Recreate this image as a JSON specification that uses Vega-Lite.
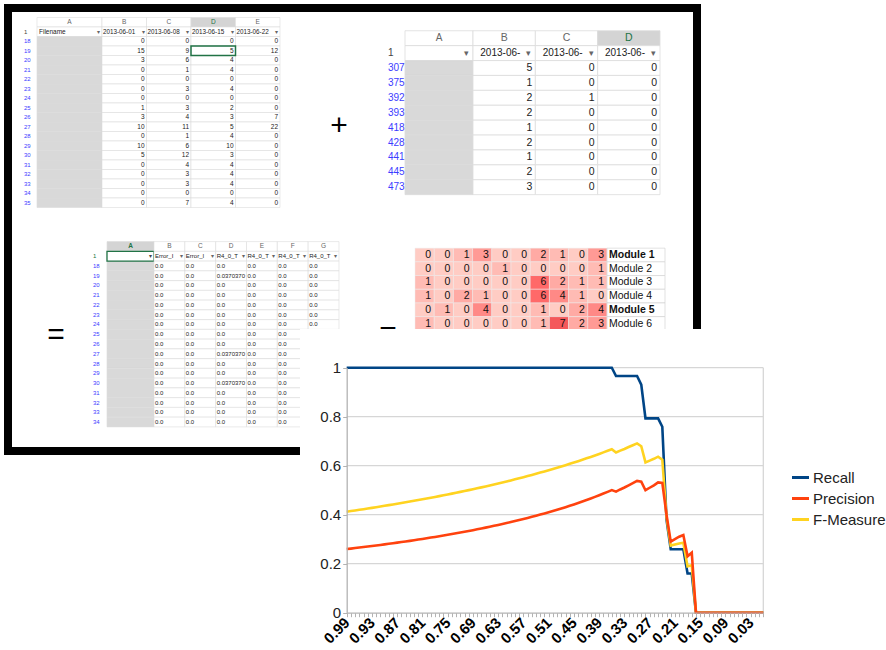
{
"$schema":"https://vega.github.io/schema/vega-lite/v6.json",
"width":689,"height":443,
"autosize":{"type":"none"},
"padding":{"left":8,"top":8,"right":189,"bottom":199},
"background":"white",
"config":{"view":{"stroke":"black","strokeWidth":8,"fill":"white"},"text":{"font":"Liberation Sans"},"font":"Liberation Sans"},
"datasets":{
"t1":[
{"r":"h","A":"A","B":"B","C":"C","D":"D","E":"E"},
{"r":"1","A":"Filename","B":"2013-06-01","C":"2013-06-08","D":"2013-06-15","E":"2013-06-22"},
{"r":"18","B":0,"C":0,"D":0,"E":0},
{"r":"19","B":15,"C":9,"D":5,"E":12},
{"r":"20","B":3,"C":6,"D":4,"E":0},
{"r":"21","B":0,"C":1,"D":4,"E":0},
{"r":"22","B":0,"C":0,"D":0,"E":0},
{"r":"23","B":0,"C":3,"D":4,"E":0},
{"r":"24","B":0,"C":0,"D":0,"E":0},
{"r":"25","B":1,"C":3,"D":2,"E":0},
{"r":"26","B":3,"C":4,"D":3,"E":7},
{"r":"27","B":10,"C":11,"D":5,"E":22},
{"r":"28","B":0,"C":1,"D":4,"E":0},
{"r":"29","B":10,"C":6,"D":10,"E":0},
{"r":"30","B":5,"C":12,"D":3,"E":0},
{"r":"31","B":0,"C":4,"D":4,"E":0},
{"r":"32","B":0,"C":3,"D":4,"E":0},
{"r":"33","B":0,"C":3,"D":4,"E":0},
{"r":"34","B":0,"C":0,"D":0,"E":0},
{"r":"35","B":0,"C":7,"D":4,"E":0}
],
"t2":[
{"r":"h","A":"A","B":"B","C":"C","D":"D"},
{"r":"1","A":"","B":"2013-06-","C":"2013-06-","D":"2013-06-"},
{"r":"307","B":5,"C":0,"D":0},
{"r":"375","B":1,"C":0,"D":0},
{"r":"392","B":2,"C":1,"D":0},
{"r":"393","B":2,"C":0,"D":0},
{"r":"418","B":1,"C":0,"D":0},
{"r":"428","B":2,"C":0,"D":0},
{"r":"441","B":1,"C":0,"D":0},
{"r":"445","B":2,"C":0,"D":0},
{"r":"473","B":3,"C":0,"D":0}
],
"t3":[
{"r":"h","A":"A","B":"B","C":"C","D":"D","E":"E","F":"F","G":"G"},
{"r":"1","A":"","B":"Error_I","C":"Error_I","D":"R4_0_T","E":"R4_0_T","F":"R4_0_T","G":"R4_0_T"},
{"r":"18","B":"0.0","C":"0.0","D":"0.0","E":"0.0","F":"0.0","G":"0.0"},
{"r":"19","B":"0.0","C":"0.0","D":"0.0370370","E":"0.0","F":"0.0","G":"0.0"},
{"r":"20","B":"0.0","C":"0.0","D":"0.0","E":"0.0","F":"0.0","G":"0.0"},
{"r":"21","B":"0.0","C":"0.0","D":"0.0","E":"0.0","F":"0.0","G":"0.0"},
{"r":"22","B":"0.0","C":"0.0","D":"0.0","E":"0.0","F":"0.0","G":"0.0"},
{"r":"23","B":"0.0","C":"0.0","D":"0.0","E":"0.0","F":"0.0","G":"0.0"},
{"r":"24","B":"0.0","C":"0.0","D":"0.0","E":"0.0","F":"0.0","G":"0.0"},
{"r":"25","B":"0.0","C":"0.0","D":"0.0","E":"0.0","F":"0.0"},
{"r":"26","B":"0.0","C":"0.0","D":"0.0","E":"0.0","F":"0.0"},
{"r":"27","B":"0.0","C":"0.0","D":"0.0370370","E":"0.0","F":"0.0"},
{"r":"28","B":"0.0","C":"0.0","D":"0.0","E":"0.0","F":"0.0"},
{"r":"29","B":"0.0","C":"0.0","D":"0.0","E":"0.0","F":"0.0"},
{"r":"30","B":"0.0","C":"0.0","D":"0.0370370","E":"0.0","F":"0.0"},
{"r":"31","B":"0.0","C":"0.0","D":"0.0","E":"0.0","F":"0.0"},
{"r":"32","B":"0.0","C":"0.0","D":"0.0","E":"0.0","F":"0.0"},
{"r":"33","B":"0.0","C":"0.0","D":"0.0","E":"0.0","F":"0.0"},
{"r":"34","B":"0.0","C":"0.0","D":"0.0","E":"0.0","F":"0.0"}
],
"hm":[
{"m":"Module 1","c1":0,"c2":0,"c3":1,"c4":3,"c5":0,"c6":0,"c7":2,"c8":1,"c9":0,"c10":3},
{"m":"Module 2","c1":0,"c2":0,"c3":0,"c4":0,"c5":1,"c6":0,"c7":0,"c8":0,"c9":0,"c10":1},
{"m":"Module 3","c1":1,"c2":0,"c3":0,"c4":0,"c5":0,"c6":0,"c7":6,"c8":2,"c9":1,"c10":1},
{"m":"Module 4","c1":1,"c2":0,"c3":2,"c4":1,"c5":0,"c6":0,"c7":6,"c8":4,"c9":1,"c10":0},
{"m":"Module 5","c1":0,"c2":1,"c3":0,"c4":4,"c5":0,"c6":0,"c7":1,"c8":0,"c9":2,"c10":4},
{"m":"Module 6","c1":1,"c2":0,"c3":0,"c4":0,"c5":0,"c6":0,"c7":1,"c8":7,"c9":2,"c10":3}
],
"pr":[
{"t":0.99,"Recall":1,"Precision":0.2597,"F-Measure":0.4123},
{"t":0.98,"Recall":1,"Precision":0.2617,"F-Measure":0.4148},
{"t":0.97,"Recall":1,"Precision":0.2638,"F-Measure":0.4175},
{"t":0.96,"Recall":1,"Precision":0.2658,"F-Measure":0.4200},
{"t":0.95,"Recall":1,"Precision":0.2679,"F-Measure":0.4226},
{"t":0.94,"Recall":1,"Precision":0.2701,"F-Measure":0.4253},
{"t":0.93,"Recall":1,"Precision":0.2722,"F-Measure":0.4279},
{"t":0.92,"Recall":1,"Precision":0.2744,"F-Measure":0.4306},
{"t":0.91,"Recall":1,"Precision":0.2766,"F-Measure":0.4333},
{"t":0.90,"Recall":1,"Precision":0.2789,"F-Measure":0.4362},
{"t":0.89,"Recall":1,"Precision":0.2812,"F-Measure":0.4390},
{"t":0.88,"Recall":1,"Precision":0.2836,"F-Measure":0.4419},
{"t":0.87,"Recall":1,"Precision":0.2859,"F-Measure":0.4447},
{"t":0.86,"Recall":1,"Precision":0.2884,"F-Measure":0.4477},
{"t":0.85,"Recall":1,"Precision":0.2908,"F-Measure":0.4506},
{"t":0.84,"Recall":1,"Precision":0.2933,"F-Measure":0.4536},
{"t":0.83,"Recall":1,"Precision":0.2959,"F-Measure":0.4567},
{"t":0.82,"Recall":1,"Precision":0.2985,"F-Measure":0.4598},
{"t":0.81,"Recall":1,"Precision":0.3011,"F-Measure":0.4628},
{"t":0.80,"Recall":1,"Precision":0.3038,"F-Measure":0.4660},
{"t":0.79,"Recall":1,"Precision":0.3066,"F-Measure":0.4693},
{"t":0.78,"Recall":1,"Precision":0.3093,"F-Measure":0.4725},
{"t":0.77,"Recall":1,"Precision":0.3122,"F-Measure":0.4758},
{"t":0.76,"Recall":1,"Precision":0.3151,"F-Measure":0.4792},
{"t":0.75,"Recall":1,"Precision":0.3180,"F-Measure":0.4825},
{"t":0.74,"Recall":1,"Precision":0.3210,"F-Measure":0.4860},
{"t":0.73,"Recall":1,"Precision":0.3241,"F-Measure":0.4895},
{"t":0.72,"Recall":1,"Precision":0.3272,"F-Measure":0.4931},
{"t":0.71,"Recall":1,"Precision":0.3304,"F-Measure":0.4967},
{"t":0.70,"Recall":1,"Precision":0.3336,"F-Measure":0.5003},
{"t":0.69,"Recall":1,"Precision":0.3369,"F-Measure":0.5040},
{"t":0.68,"Recall":1,"Precision":0.3403,"F-Measure":0.5078},
{"t":0.67,"Recall":1,"Precision":0.3437,"F-Measure":0.5116},
{"t":0.66,"Recall":1,"Precision":0.3472,"F-Measure":0.5154},
{"t":0.65,"Recall":1,"Precision":0.3508,"F-Measure":0.5194},
{"t":0.64,"Recall":1,"Precision":0.3545,"F-Measure":0.5234},
{"t":0.63,"Recall":1,"Precision":0.3582,"F-Measure":0.5275},
{"t":0.62,"Recall":1,"Precision":0.3620,"F-Measure":0.5316},
{"t":0.61,"Recall":1,"Precision":0.3659,"F-Measure":0.5358},
{"t":0.60,"Recall":1,"Precision":0.3699,"F-Measure":0.5400},
{"t":0.59,"Recall":1,"Precision":0.3740,"F-Measure":0.5444},
{"t":0.58,"Recall":1,"Precision":0.3781,"F-Measure":0.5487},
{"t":0.57,"Recall":1,"Precision":0.3824,"F-Measure":0.5532},
{"t":0.56,"Recall":1,"Precision":0.3867,"F-Measure":0.5577},
{"t":0.55,"Recall":1,"Precision":0.3912,"F-Measure":0.5624},
{"t":0.54,"Recall":1,"Precision":0.3957,"F-Measure":0.5670},
{"t":0.53,"Recall":1,"Precision":0.4004,"F-Measure":0.5718},
{"t":0.52,"Recall":1,"Precision":0.4052,"F-Measure":0.5767},
{"t":0.51,"Recall":1,"Precision":0.4100,"F-Measure":0.5816},
{"t":0.50,"Recall":1,"Precision":0.4150,"F-Measure":0.5866},
{"t":0.49,"Recall":1,"Precision":0.4202,"F-Measure":0.5917},
{"t":0.48,"Recall":1,"Precision":0.4254,"F-Measure":0.5969},
{"t":0.47,"Recall":1,"Precision":0.4308,"F-Measure":0.6022},
{"t":0.46,"Recall":1,"Precision":0.4363,"F-Measure":0.6075},
{"t":0.45,"Recall":1,"Precision":0.4420,"F-Measure":0.6130},
{"t":0.44,"Recall":1,"Precision":0.4478,"F-Measure":0.6186},
{"t":0.43,"Recall":1,"Precision":0.4538,"F-Measure":0.6243},
{"t":0.42,"Recall":1,"Precision":0.4599,"F-Measure":0.6300},
{"t":0.41,"Recall":1,"Precision":0.4662,"F-Measure":0.6359},
{"t":0.40,"Recall":1,"Precision":0.4727,"F-Measure":0.6420},
{"t":0.39,"Recall":1,"Precision":0.4794,"F-Measure":0.6481},
{"t":0.38,"Recall":1,"Precision":0.4862,"F-Measure":0.6543},
{"t":0.37,"Recall":1,"Precision":0.4933,"F-Measure":0.6607},
{"t":0.36,"Recall":1,"Precision":0.5006,"F-Measure":0.6672},
{"t":0.35,"Recall":0.966,"Precision":0.494,"F-Measure":0.6537},
{"t":0.34,"Recall":0.966,"Precision":0.503,"F-Measure":0.6615},
{"t":0.33,"Recall":0.966,"Precision":0.511,"F-Measure":0.6684},
{"t":0.32,"Recall":0.966,"Precision":0.520,"F-Measure":0.6761},
{"t":0.31,"Recall":0.966,"Precision":0.529,"F-Measure":0.6836},
{"t":0.30,"Recall":0.966,"Precision":0.538,"F-Measure":0.6911},
{"t":0.29,"Recall":0.931,"Precision":0.535,"F-Measure":0.6795},
{"t":0.28,"Recall":0.793,"Precision":0.500,"F-Measure":0.6133},
{"t":0.27,"Recall":0.793,"Precision":0.510,"F-Measure":0.6208},
{"t":0.26,"Recall":0.793,"Precision":0.520,"F-Measure":0.6281},
{"t":0.25,"Recall":0.793,"Precision":0.532,"F-Measure":0.6368},
{"t":0.24,"Recall":0.759,"Precision":0.530,"F-Measure":0.6242},
{"t":0.23,"Recall":0.38,"Precision":0.40,"F-Measure":0.39},
{"t":0.22,"Recall":0.259,"Precision":0.29,"F-Measure":0.274},
{"t":0.21,"Recall":0.259,"Precision":0.30,"F-Measure":0.2786},
{"t":0.20,"Recall":0.259,"Precision":0.31,"F-Measure":0.2828},
{"t":0.19,"Recall":0.259,"Precision":0.317,"F-Measure":0.2857},
{"t":0.18,"Recall":0.16,"Precision":0.23,"F-Measure":0.1887},
{"t":0.17,"Recall":0.16,"Precision":0.245,"F-Measure":0.1936},
{"t":0.16,"Recall":0,"Precision":0,"F-Measure":0},
{"t":0.15,"Recall":0,"Precision":0,"F-Measure":0},
{"t":0.14,"Recall":0,"Precision":0,"F-Measure":0},
{"t":0.13,"Recall":0,"Precision":0,"F-Measure":0},
{"t":0.12,"Recall":0,"Precision":0,"F-Measure":0},
{"t":0.11,"Recall":0,"Precision":0,"F-Measure":0},
{"t":0.10,"Recall":0,"Precision":0,"F-Measure":0},
{"t":0.09,"Recall":0,"Precision":0,"F-Measure":0},
{"t":0.08,"Recall":0,"Precision":0,"F-Measure":0},
{"t":0.07,"Recall":0,"Precision":0,"F-Measure":0},
{"t":0.06,"Recall":0,"Precision":0,"F-Measure":0},
{"t":0.05,"Recall":0,"Precision":0,"F-Measure":0},
{"t":0.04,"Recall":0,"Precision":0,"F-Measure":0},
{"t":0.03,"Recall":0,"Precision":0,"F-Measure":0},
{"t":0.02,"Recall":0,"Precision":0,"F-Measure":0},
{"t":0.01,"Recall":0,"Precision":0,"F-Measure":0},
{"t":0.00,"Recall":0,"Precision":0,"F-Measure":0}
]
},
"layer":[
{
"data":{"name":"t1"},
"transform":[{"fold":["A"],"as":["col","val"]}],
"encoding":{
"x":{"field":"col","type":"nominal","scale":{"type":"band","domain":["A"],"range":[29,94],"paddingInner":0,"paddingOuter":0},"axis":null},
"y":{"field":"r","type":"nominal","scale":{"type":"band","domain":["h","1","18","19","20","21","22","23","24","25","26","27","28","29","30","31","32","33","34","35"],"range":[9.5,199.5],"paddingInner":0,"paddingOuter":0},"axis":null}
},
"layer":[
{"mark":{"type":"rect","stroke":"#dcdcdc","strokeWidth":0.6},"encoding":{"fill":{"condition":{"test":"datum.r=='h'||datum.r=='1'","value":"#ffffff"},"value":"#d9d9d9"}}},
{"transform":[{"filter":"datum.r=='h'"}],"mark":{"type":"text","fontSize":6.5,"color":"#666666"},"encoding":{"text":{"field":"val"}}},
{"transform":[{"filter":"datum.r=='1'"}],"mark":{"type":"text","align":"left","dx":2,"fontSize":6.5,"color":"#222222"},"encoding":{"x":{"field":"col","type":"nominal","bandPosition":0,"axis":null},"text":{"field":"val"}}},
{"transform":[{"filter":"datum.r=='1'"}],"mark":{"type":"text","align":"right","dx":-2,"fontSize":6,"color":"#666666","text":"▾"},"encoding":{"x":{"field":"col","type":"nominal","bandPosition":1,"axis":null}}},
{"transform":[{"filter":"datum.r!='h'"}],"mark":{"type":"text","align":"left","dx":-13,"fontSize":6},"encoding":{"x":{"field":"col","type":"nominal","bandPosition":0,"axis":null},"text":{"field":"r"},"color":{"condition":{"test":"datum.r=='1'","value":"#444444"},"value":"#3c3cff"}}}
]
},
{
"data":{"name":"t1"},
"transform":[{"fold":["B","C","D","E"],"as":["col","val"]}],
"encoding":{
"x":{"field":"col","type":"nominal","scale":{"type":"band","domain":["B","C","D","E"],"range":[94,272],"paddingInner":0,"paddingOuter":0},"axis":null},
"y":{"field":"r","type":"nominal","scale":{"type":"band","domain":["h","1","18","19","20","21","22","23","24","25","26","27","28","29","30","31","32","33","34","35"],"range":[9.5,199.5],"paddingInner":0,"paddingOuter":0},"axis":null}
},
"layer":[
{"mark":{"type":"rect","stroke":"#dcdcdc","strokeWidth":0.6},"encoding":{"fill":{"condition":{"test":"datum.r=='h'&&datum.col=='D'","value":"#d4d4d4"},"value":"#ffffff"}}},
{"transform":[{"filter":"datum.r!='h'&&datum.r!='1'"}],"mark":{"type":"text","align":"right","dx":-2,"fontSize":6.5,"color":"#222222"},"encoding":{"x":{"field":"col","type":"nominal","bandPosition":1,"axis":null},"text":{"field":"val"}}},
{"transform":[{"filter":"datum.r=='1'"}],"mark":{"type":"text","align":"left","dx":1,"fontSize":6.3,"color":"#222222"},"encoding":{"x":{"field":"col","type":"nominal","bandPosition":0,"axis":null},"text":{"field":"val"}}},
{"transform":[{"filter":"datum.r=='1'"}],"mark":{"type":"text","align":"right","dx":-2,"fontSize":6,"color":"#666666","text":"▾"},"encoding":{"x":{"field":"col","type":"nominal","bandPosition":1,"axis":null}}},
{"transform":[{"filter":"datum.r=='h'"}],"mark":{"type":"text","fontSize":6.5},"encoding":{"text":{"field":"val"},"color":{"condition":{"test":"datum.col=='D'","value":"#217346"},"value":"#666666"}}},
{"transform":[{"filter":"datum.r=='19'&&datum.col=='D'"}],"mark":{"type":"rect","fill":"transparent","stroke":"#217346","strokeWidth":1.5}}
]
},
{
"data":{"name":"t2"},
"transform":[{"fold":["A"],"as":["col","val"]}],
"encoding":{
"x":{"field":"col","type":"nominal","scale":{"type":"band","domain":["A"],"range":[397,465],"paddingInner":0,"paddingOuter":0},"axis":null},
"y":{"field":"r","type":"nominal","scale":{"type":"band","domain":["h","1","307","375","392","393","418","428","441","445","473"],"range":[22.75,186.65],"paddingInner":0,"paddingOuter":0},"axis":null}
},
"layer":[
{"mark":{"type":"rect","stroke":"#dcdcdc","strokeWidth":0.8},"encoding":{"fill":{"condition":{"test":"datum.r=='h'||datum.r=='1'","value":"#ffffff"},"value":"#d9d9d9"}}},
{"transform":[{"filter":"datum.r=='h'"}],"mark":{"type":"text","fontSize":10,"color":"#666666"},"encoding":{"text":{"field":"val"}}},
{"transform":[{"filter":"datum.r=='1'"}],"mark":{"type":"text","align":"right","dx":-4,"fontSize":9,"color":"#666666","text":"▾"},"encoding":{"x":{"field":"col","type":"nominal","bandPosition":1,"axis":null}}},
{"transform":[{"filter":"datum.r!='h'"}],"mark":{"type":"text","align":"left","dx":-17,"fontSize":10},"encoding":{"x":{"field":"col","type":"nominal","bandPosition":0,"axis":null},"text":{"field":"r"},"color":{"condition":{"test":"datum.r=='1'","value":"#444444"},"value":"#3c3cff"}}},
{"transform":[{"filter":"datum.r=='418'"}],"mark":{"type":"text","text":"+","fontSize":30,"dx":-66,"dy":-2,"color":"#000000"},"encoding":{"x":{"field":"col","type":"nominal","bandPosition":0,"axis":null}}}
]
},
{
"data":{"name":"t2"},
"transform":[{"fold":["B","C","D"],"as":["col","val"]}],
"encoding":{
"x":{"field":"col","type":"nominal","scale":{"type":"band","domain":["B","C","D"],"range":[465,652],"paddingInner":0,"paddingOuter":0},"axis":null},
"y":{"field":"r","type":"nominal","scale":{"type":"band","domain":["h","1","307","375","392","393","418","428","441","445","473"],"range":[22.75,186.65],"paddingInner":0,"paddingOuter":0},"axis":null}
},
"layer":[
{"mark":{"type":"rect","stroke":"#dcdcdc","strokeWidth":0.8},"encoding":{"fill":{"condition":{"test":"datum.r=='h'&&datum.col=='D'","value":"#d4d4d4"},"value":"#ffffff"}}},
{"transform":[{"filter":"datum.r!='h'&&datum.r!='1'"}],"mark":{"type":"text","align":"right","dx":-3,"fontSize":10.5,"color":"#222222"},"encoding":{"x":{"field":"col","type":"nominal","bandPosition":1,"axis":null},"text":{"field":"val"}}},
{"transform":[{"filter":"datum.r=='1'"}],"mark":{"type":"text","align":"right","dx":-15,"fontSize":10,"color":"#222222"},"encoding":{"x":{"field":"col","type":"nominal","bandPosition":1,"axis":null},"text":{"field":"val"}}},
{"transform":[{"filter":"datum.r=='1'"}],"mark":{"type":"text","align":"right","dx":-4,"fontSize":9,"color":"#666666","text":"▾"},"encoding":{"x":{"field":"col","type":"nominal","bandPosition":1,"axis":null}}},
{"transform":[{"filter":"datum.r=='h'"}],"mark":{"type":"text","fontSize":10.5},"encoding":{"text":{"field":"val"},"color":{"condition":{"test":"datum.col=='D'","value":"#217346"},"value":"#666666"}}}
]
},
{
"data":{"name":"t3"},
"transform":[{"fold":["A"],"as":["col","val"]}],
"encoding":{
"x":{"field":"col","type":"nominal","scale":{"type":"band","domain":["A"],"range":[99,146],"paddingInner":0,"paddingOuter":0},"axis":null},
"y":{"field":"r","type":"nominal","scale":{"type":"band","domain":["h","1","18","19","20","21","22","23","24","25","26","27","28","29","30","31","32","33","34"],"range":[233.6,418.9],"paddingInner":0,"paddingOuter":0},"axis":null}
},
"layer":[
{"mark":{"type":"rect","stroke":"#dcdcdc","strokeWidth":0.6},"encoding":{"fill":{"condition":{"test":"datum.r=='h'","value":"#d4d4d4"},"value":"#d9d9d9"}}},
{"transform":[{"filter":"datum.r=='1'"}],"mark":{"type":"rect","fill":"#ffffff","stroke":"#217346","strokeWidth":1.3}},
{"transform":[{"filter":"datum.r=='h'"}],"mark":{"type":"text","fontSize":6.5,"fontWeight":"bold","color":"#217346"},"encoding":{"text":{"field":"val"}}},
{"transform":[{"filter":"datum.r=='1'"}],"mark":{"type":"text","align":"right","dx":-2,"fontSize":6,"color":"#444444","text":"▾"},"encoding":{"x":{"field":"col","type":"nominal","bandPosition":1,"axis":null}}},
{"transform":[{"filter":"datum.r!='h'"}],"mark":{"type":"text","align":"left","dx":-14,"fontSize":6},"encoding":{"x":{"field":"col","type":"nominal","bandPosition":0,"axis":null},"text":{"field":"r"},"color":{"condition":{"test":"datum.r=='1'","value":"#217346"},"value":"#3c3cff"}}},
{"transform":[{"filter":"datum.r=='25'"}],"mark":{"type":"text","text":"=","fontSize":30,"dx":-51,"dy":1,"color":"#000000"},"encoding":{"x":{"field":"col","type":"nominal","bandPosition":0,"axis":null}}}
]
},
{
"data":{"name":"t3"},
"transform":[{"fold":["B","C","D","E","F","G"],"as":["col","val"]},{"filter":"isValid(datum.val)"}],
"encoding":{
"x":{"field":"col","type":"nominal","scale":{"type":"band","domain":["B","C","D","E","F","G"],"range":[146,331],"paddingInner":0,"paddingOuter":0},"axis":null},
"y":{"field":"r","type":"nominal","scale":{"type":"band","domain":["h","1","18","19","20","21","22","23","24","25","26","27","28","29","30","31","32","33","34"],"range":[233.6,418.9],"paddingInner":0,"paddingOuter":0},"axis":null}
},
"layer":[
{"mark":{"type":"rect","fill":"#ffffff","stroke":"#dcdcdc","strokeWidth":0.6}},
{"transform":[{"filter":"datum.r!='h'&&datum.r!='1'"}],"mark":{"type":"text","align":"left","dx":1,"fontSize":6,"color":"#222222"},"encoding":{"x":{"field":"col","type":"nominal","bandPosition":0,"axis":null},"text":{"field":"val"}}},
{"transform":[{"filter":"datum.r=='1'"}],"mark":{"type":"text","align":"left","dx":1,"fontSize":6,"color":"#222222"},"encoding":{"x":{"field":"col","type":"nominal","bandPosition":0,"axis":null},"text":{"field":"val"}}},
{"transform":[{"filter":"datum.r=='1'"}],"mark":{"type":"text","align":"right","dx":-2,"fontSize":6,"color":"#666666","text":"▾"},"encoding":{"x":{"field":"col","type":"nominal","bandPosition":1,"axis":null}}},
{"transform":[{"filter":"datum.r=='h'"}],"mark":{"type":"text","fontSize":6.5,"color":"#666666"},"encoding":{"text":{"field":"val"}}}
]
},
{
"data":{"name":"hm"},
"transform":[{"fold":["c1","c2","c3","c4","c5","c6","c7","c8","c9","c10"],"as":["col","val"]}],
"encoding":{
"x":{"field":"col","type":"nominal","scale":{"type":"band","domain":["c1","c2","c3","c4","c5","c6","c7","c8","c9","c10"],"range":[407,599],"paddingInner":0,"paddingOuter":0},"axis":null},
"y":{"field":"m","type":"nominal","scale":{"type":"band","domain":["Module 1","Module 2","Module 3","Module 4","Module 5","Module 6"],"range":[240.15,322.35],"paddingInner":0,"paddingOuter":0},"axis":null}
},
"layer":[
{"mark":{"type":"rect","stroke":"#ececec","strokeWidth":0.5},"encoding":{"color":{"field":"val","type":"quantitative","scale":{"domain":[0,7],"range":["#ffffff","#f4585b"]},"legend":null}}},
{"mark":{"type":"text","align":"right","dx":-3,"fontSize":10.5,"color":"#111111"},"encoding":{"x":{"field":"col","type":"nominal","bandPosition":1,"axis":null},"text":{"field":"val"}}},
{"transform":[{"filter":"datum.m=='Module 6'&&datum.col=='c1'"}],"mark":{"type":"text","text":"=","fontSize":30,"dx":-27,"dy":9,"color":"#000000"},"encoding":{"x":{"field":"col","type":"nominal","bandPosition":0,"axis":null}}}
]
},
{
"data":{"name":"hm"},
"transform":[{"fold":["m"],"as":["col","val"]}],
"encoding":{
"x":{"field":"col","type":"nominal","scale":{"type":"band","domain":["m"],"range":[599,657],"paddingInner":0,"paddingOuter":0},"axis":null},
"y":{"field":"m","type":"nominal","scale":{"type":"band","domain":["Module 1","Module 2","Module 3","Module 4","Module 5","Module 6"],"range":[240.15,322.35],"paddingInner":0,"paddingOuter":0},"axis":null}
},
"layer":[
{"mark":{"type":"rect","fill":"#ffffff","stroke":"#d4d4d4","strokeWidth":0.7}},
{"transform":[{"filter":"datum.m=='Module 1'||datum.m=='Module 5'"}],"mark":{"type":"text","align":"left","dx":2,"fontSize":10.5,"fontWeight":"bold","color":"#111111"},"encoding":{"x":{"field":"col","type":"nominal","bandPosition":0,"axis":null},"text":{"field":"val"}}},
{"transform":[{"filter":"datum.m!='Module 1'&&datum.m!='Module 5'"}],"mark":{"type":"text","align":"left","dx":2,"fontSize":10.5,"color":"#111111"},"encoding":{"x":{"field":"col","type":"nominal","bandPosition":0,"axis":null},"text":{"field":"val"}}}
]
},
{"data":{"values":[{"p":1}]},"mark":{"type":"rect","fill":"#ffffff"},"encoding":{"x":{"datum":1.101,"type":"quantitative","scale":{"domain":[0,0.99],"reverse":true,"range":[338.7,755.3],"nice":false,"zero":false},"axis":null},"x2":{"datum":-0.2916},"y":{"datum":1.158,"type":"quantitative","scale":{"domain":[0,1],"range":[604.7,359.7],"nice":false,"zero":false},"axis":null},"y2":{"datum":-0.152}}},
{"data":{"values":[{"g":0.2},{"g":0.4},{"g":0.6},{"g":0.8},{"g":1}]},"mark":{"type":"rule","color":"#d6d6d6","strokeWidth":1.3},"encoding":{"y":{"field":"g","type":"quantitative","scale":{"domain":[0,1],"range":[604.7,359.7],"nice":false,"zero":false},"axis":null},"x":{"datum":0.99,"type":"quantitative","scale":{"domain":[0,0.99],"reverse":true,"range":[338.7,755.3],"nice":false,"zero":false},"axis":null},"x2":{"datum":0}}},
{"data":{"values":[{"p":1}]},"mark":{"type":"rule","color":"#d6d6d6","strokeWidth":1.3},"encoding":{"x":{"datum":0,"type":"quantitative","scale":{"domain":[0,0.99],"reverse":true,"range":[338.7,755.3],"nice":false,"zero":false},"axis":null},"y":{"datum":0,"type":"quantitative","scale":{"domain":[0,1],"range":[604.7,359.7],"nice":false,"zero":false},"axis":null},"y2":{"datum":1}}},
{"data":{"name":"pr"},
"transform":[{"fold":["Recall","F-Measure","Precision"],"as":["series","val"]}],
"mark":{"type":"line","strokeWidth":2.6},
"encoding":{
"x":{"field":"t","type":"quantitative","scale":{"domain":[0,0.99],"reverse":true,"range":[338.7,755.3],"nice":false,"zero":false},"axis":{"orient":"bottom","offset":161.7,"zindex":1,"values":[0.99,0.98,0.97,0.96,0.95,0.94,0.93,0.92,0.91,0.9,0.89,0.88,0.87,0.86,0.85,0.84,0.83,0.82,0.81,0.8,0.79,0.78,0.77,0.76,0.75,0.74,0.73,0.72,0.71,0.7,0.69,0.68,0.67,0.66,0.65,0.64,0.63,0.62,0.61,0.6,0.59,0.58,0.57,0.56,0.55,0.54,0.53,0.52,0.51,0.5,0.49,0.48,0.47,0.46,0.45,0.44,0.43,0.42,0.41,0.4,0.39,0.38,0.37,0.36,0.35,0.34,0.33,0.32,0.31,0.3,0.29,0.28,0.27,0.26,0.25,0.24,0.23,0.22,0.21,0.2,0.19,0.18,0.17,0.16,0.15,0.14,0.13,0.12,0.11,0.1,0.09,0.08,0.07,0.06,0.05,0.04,0.03,0.02,0.01,0],"labelExpr":"round(datum.value*100)%6==3 ? format(datum.value,'.2f') : ''","labelAngle":-45,"labelAlign":"right","labelBaseline":"middle","labelFontSize":15,"labelFontWeight":"bold","labelFont":"Liberation Sans","labelColor":"#000000","labelPadding":3,"tickSize":4,"tickColor":"#b3b3b3","domainColor":"#b3b3b3","domainWidth":1.3,"labelOverlap":false,"labelFlush":false,"labelBound":false,"grid":false,"title":null}},
"y":{"field":"val","type":"quantitative","scale":{"domain":[0,1],"range":[604.7,359.7],"nice":false,"zero":false},"axis":{"orient":"left","offset":-338.7,"zindex":1,"values":[0,0.2,0.4,0.6,0.8,1],"format":"~g","labelFontSize":15,"labelFont":"Liberation Sans","labelColor":"#222222","labelPadding":2,"tickSize":4,"tickColor":"#b3b3b3","domainColor":"#b3b3b3","domainWidth":1.3,"grid":false,"title":null}},
"color":{"field":"series","type":"nominal","scale":{"domain":["Recall","Precision","F-Measure"],"range":["#004586","#ff420e","#ffd320"]},"legend":{"orient":"none","legendX":782,"legendY":459,"zindex":2,"title":null,"symbolType":"stroke","symbolStrokeWidth":3,"symbolSize":290,"labelFontSize":15,"labelFont":"Liberation Sans","labelColor":"#222222","rowPadding":2,"labelOffset":2}}}}
],
"resolve":{"scale":{"x":"independent","y":"independent","color":"independent"},"axis":{"x":"independent","y":"independent"},"legend":{"color":"independent"}}
}
